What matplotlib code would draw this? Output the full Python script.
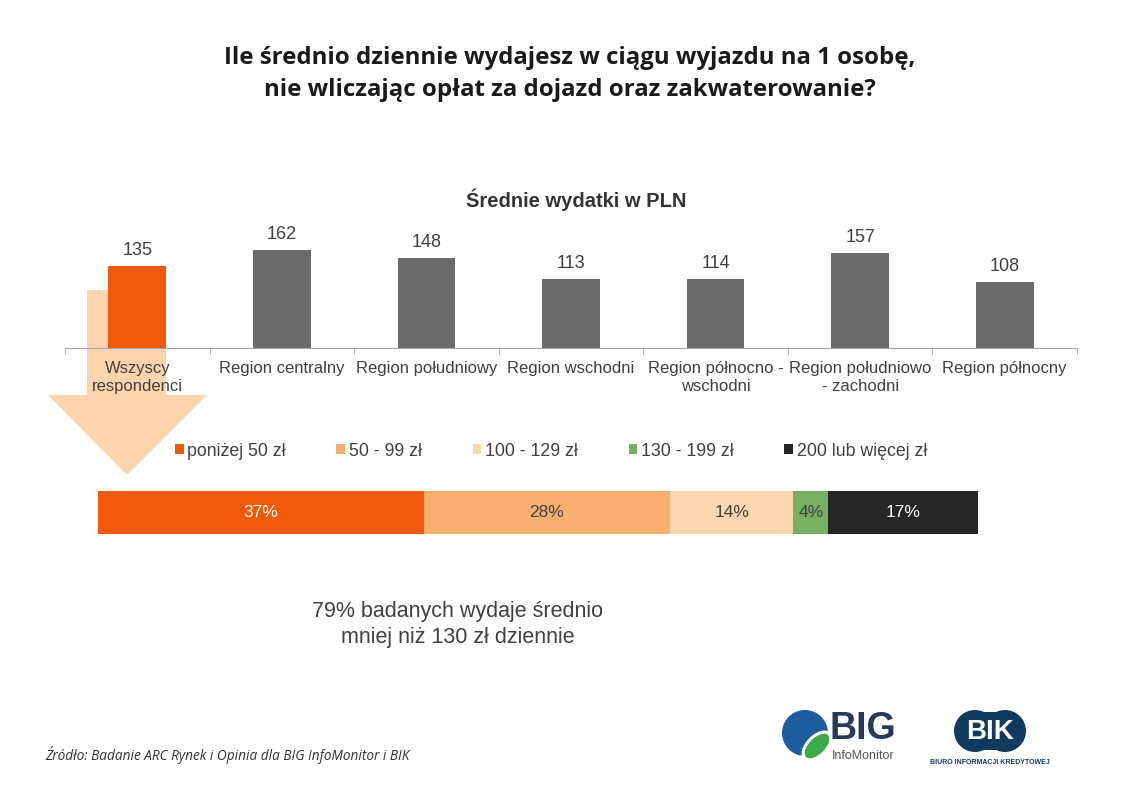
import matplotlib
matplotlib.use('Agg')
import matplotlib.pyplot as plt
import numpy as np
from matplotlib.patches import Polygon, Circle, Ellipse, Rectangle

plt.rc('font', family=['Liberation Sans', 'DejaVu Sans'])

# data
regions = ['Wszyscy\nrespondenci', 'Region centralny', 'Region południowy',
           'Region wschodni', 'Region północno -\nwschodni',
           'Region południowo\n- zachodni', 'Region północny']
avg_pln = [135, 162, 148, 113, 114, 157, 108]

brackets = ['poniżej 50 zł', '50 - 99 zł', '100 - 129 zł', '130 - 199 zł',
            '200 lub więcej zł']
shares = [37, 28, 14, 4, 17]

W, H = 1140, 800
txt = '#404040'
orange = '#F05A0A'
bar_gray = '#6B6B6B'
seg_colors = [orange, '#F8B071', '#FCD6AE', '#77B063', '#262626']
seg_text = ['white', txt, txt, txt, 'white']

fig = plt.figure(figsize=(W / 100, H / 100), dpi=100)

# background layer in pixel coords (decorations, titles, logos)
bg = fig.add_axes([0, 0, 1, 1], zorder=0)
bg.set_xlim(0, W)
bg.set_ylim(H, 0)
bg.axis('off')

bg.text(570, 58, 'Ile średnio dziennie wydajesz w ciągu wyjazdu na 1 osobę,',
        ha='center', va='center', fontsize=17.3, fontweight='bold',
        family=['Open Sans', 'DejaVu Sans'], color='#1a1a1a')
bg.text(570, 90, 'nie wliczając opłat za dojazd oraz zakwaterowanie?',
        ha='center', va='center', fontsize=17.3, fontweight='bold',
        family=['Open Sans', 'DejaVu Sans'], color='#1a1a1a')

bg.text(576, 200, 'Średnie wydatki w PLN', ha='center', va='center',
        fontsize=14.5, fontweight='bold', color='#333333')

# arrow behind the first bar
arrow = Polygon([(87, 290), (166, 290), (166, 395), (207, 395), (127, 475),
                 (48, 395), (87, 395)], closed=True, color='#FCD5AD', lw=0)
bg.add_patch(arrow)

bg.text(458, 612, '79% badanych wydaje średnio', ha='center', va='center',
        fontsize=15.5, color=txt)
bg.text(458, 637, 'mniej niż 130 zł dziennie', ha='center', va='center',
        fontsize=15.5, color=txt)

bg.text(45, 755, 'Źródło: Badanie ARC Rynek i Opinia dla BIG InfoMonitor i BIK',
        ha='left', va='center', fontsize=9.8, style='italic',
        family=['Open Sans', 'DejaVu Sans'], color='#333333')

# BIG InfoMonitor logo
bg.add_patch(Circle((805, 733), 23, color='#1D5C9E', lw=0))
bg.add_patch(Ellipse((817, 746), 38, 22, angle=-45, color='white', lw=0))
bg.add_patch(Ellipse((817, 746), 31, 16, angle=-45, color='#3BAA48', lw=0))
bg.text(830, 729, 'BIG', ha='left', va='center', fontsize=27, fontweight='bold',
        color='#263A5A')
bg.text(832, 756, 'InfoMonitor', ha='left', va='center', fontsize=9,
        color='#555555')

# BIK logo
navy = '#123A5E'
bg.add_patch(Circle((975, 731), 21, color=navy, lw=0))
bg.add_patch(Circle((1005, 731), 21, color=navy, lw=0))
bg.add_patch(Rectangle((975, 712), 30, 38, color=navy, lw=0))
bg.text(990, 732, 'BIK', ha='center', va='center', fontsize=20,
        fontweight='bold', color='white')
bg.text(990, 762, 'BIURO INFORMACJI KREDYTOWEJ', ha='center', va='center',
        fontsize=5, fontweight='bold', color=navy)

# average spending bars
ax = fig.add_axes([65 / W, 1 - 348 / H, 1012 / W, 121.4 / H], zorder=1)
ax.patch.set_visible(False)
x = np.arange(len(regions))
colors = [orange] + [bar_gray] * (len(regions) - 1)
ax.bar(x, avg_pln, width=0.4, color=colors)
for xi, v in zip(x, avg_pln):
    ax.annotate(str(v), (xi, v), xytext=(0, 5), textcoords='offset points',
                ha='center', va='bottom', fontsize=13, color=txt)
ax.set_xlim(-0.5, len(regions) - 0.5)
ax.set_ylim(0, 200)
for s in ['top', 'right', 'left']:
    ax.spines[s].set_visible(False)
ax.spines['bottom'].set_color('#A6A6A6')
ax.set_yticks([])
ax.set_xticks(x)
ax.set_xticklabels(regions, fontsize=12, color=txt, linespacing=1.3)
ax.set_xticks(np.arange(-0.5, len(regions), 1), minor=True)
ax.tick_params(axis='x', which='major', length=0, pad=9)
ax.tick_params(axis='x', which='minor', length=4, color='#A6A6A6')

# stacked share bar
sax = fig.add_axes([98 / W, 1 - 534 / H, 880 / W, 43 / H], zorder=1)
left = 0
for b, s, c, tc in zip(brackets, shares, seg_colors, seg_text):
    sax.barh(0, s, left=left, height=1, color=c, label=b)
    sax.text(left + s / 2, 0, f'{s}%', ha='center', va='center',
             fontsize=12.5, color=tc)
    left += s
sax.set_xlim(0, 100)
sax.set_ylim(-0.5, 0.5)
sax.axis('off')
sax.legend(loc='center', bbox_to_anchor=(551 / W, 1 - 451 / H),
           bbox_transform=fig.transFigure, ncol=5, frameon=False,
           fontsize=12.8, handlelength=0.5, handleheight=0.5,
           handletextpad=0.2, columnspacing=2.85, labelcolor=txt)

fig.savefig('out.png', dpi=100)
